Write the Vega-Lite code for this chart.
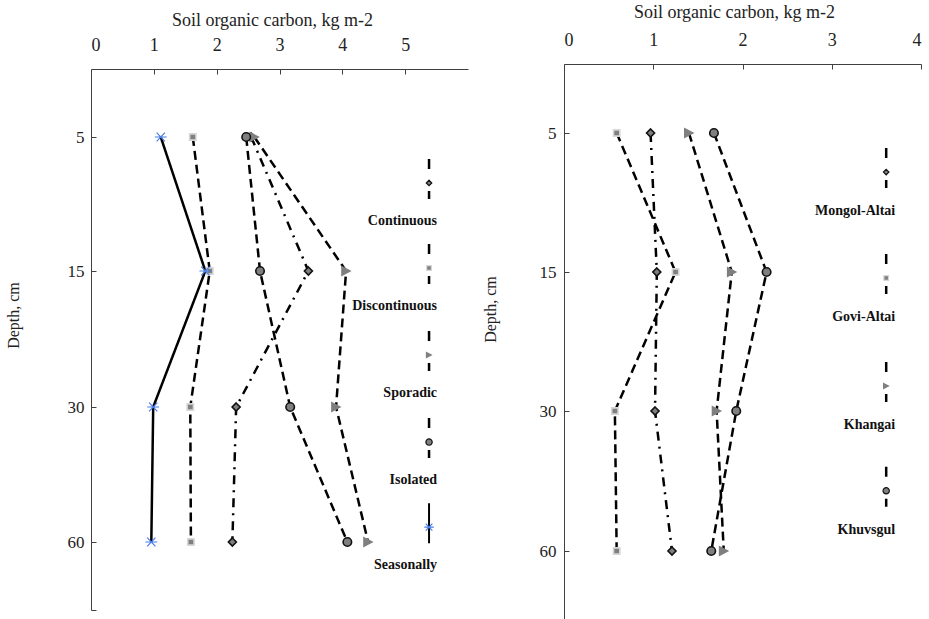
{
  "$schema": "https://vega.github.io/schema/vega-lite/v6.json",
  "background": "white",
  "padding": {"left": 5, "top": 3, "right": 0, "bottom": 0},
  "spacing": 14,
  "config": {
    "view": {"stroke": null},
    "font": "Liberation Serif",
    "axis": {
      "grid": false,
      "domainColor": "#404040",
      "tickColor": "#404040",
      "labelColor": "#222222",
      "titleColor": "#222222",
      "labelFont": "Liberation Serif",
      "titleFont": "Liberation Serif",
      "titleFontWeight": "normal",
      "labelFontSize": 18,
      "titleFontSize": 18
    }
  },
  "resolve": {"scale": {"x": "independent", "y": "independent", "shape": "independent", "fill": "independent", "stroke": "independent", "strokeDash": "independent"}},
  "hconcat": [
    {
      "width": 377,
      "height": 541,
      "data": {"values": [
        {"series": "Continuous", "depth": 5, "soc": 2.55},
        {"series": "Continuous", "depth": 15, "soc": 3.46},
        {"series": "Continuous", "depth": 30, "soc": 2.31},
        {"series": "Continuous", "depth": 60, "soc": 2.25},
        {"series": "Discontinuous", "depth": 5, "soc": 1.62},
        {"series": "Discontinuous", "depth": 15, "soc": 1.89},
        {"series": "Discontinuous", "depth": 30, "soc": 1.58},
        {"series": "Discontinuous", "depth": 60, "soc": 1.59},
        {"series": "Sporadic", "depth": 5, "soc": 2.6},
        {"series": "Sporadic", "depth": 15, "soc": 4.06},
        {"series": "Sporadic", "depth": 30, "soc": 3.9},
        {"series": "Sporadic", "depth": 60, "soc": 4.41},
        {"series": "Isolated", "depth": 5, "soc": 2.47},
        {"series": "Isolated", "depth": 15, "soc": 2.69},
        {"series": "Isolated", "depth": 30, "soc": 3.17},
        {"series": "Isolated", "depth": 60, "soc": 4.08},
        {"series": "Seasonally", "depth": 5, "soc": 1.11},
        {"series": "Seasonally", "depth": 15, "soc": 1.82},
        {"series": "Seasonally", "depth": 30, "soc": 0.99},
        {"series": "Seasonally", "depth": 60, "soc": 0.96}
      ]},
      "encoding": {
        "x": {"field": "soc", "type": "quantitative",
          "scale": {"domain": [0, 6], "nice": false, "zero": false},
          "axis": {"orient": "top", "title": "Soil organic carbon, kg m-2", "values": [0, 1, 2, 3, 4, 5], "tickSize": -5, "labelPadding": 20, "titlePadding": 7, "titleX": 181}},
        "y": {"field": "depth", "type": "quantitative",
          "scale": {"domain": [0, 5, 15, 30, 60, 70], "range": [0, 68, 202, 338, 473, 541], "nice": false, "zero": false},
          "axis": {"title": "Depth, cm", "titleFontSize": 16, "labelFontSize": 17, "values": [5, 15, 30, 60, 70], "labelExpr": "datum.value === 70 ? '' : datum.label", "tickSize": -5, "labelPadding": 12, "titlePadding": 46, "titleY": 246}}
      },
      "layer": [
        {
          "mark": {"type": "line", "color": "black", "strokeWidth": 2.5},
          "encoding": {
            "detail": {"field": "series"},
            "order": {"field": "depth", "type": "quantitative"},
            "strokeDash": {"field": "series", "type": "nominal", "legend": null,
              "scale": {"domain": ["Continuous", "Discontinuous", "Sporadic", "Isolated", "Seasonally"], "range": [[9, 6, 2, 6], [9, 5], [9, 5], [9, 5], [1, 0]]}},
            "strokeWidth": {"condition": {"test": "datum.series === 'Seasonally'", "value": 1.6}, "value": 2.5}
          }
        },
        {
          "mark": {"type": "point", "filled": true, "opacity": 1},
          "encoding": {
            "shape": {"field": "series", "type": "nominal", "legend": null,
              "scale": {"domain": ["Continuous", "Discontinuous", "Sporadic", "Isolated", "Seasonally"], "range": ["M0,-1L1,0L0,1L-1,0Z", "square", "M1,0L-0.9,-1L-0.9,1Z", "circle", "M-1,0L1,0M-0.7,-0.75L0.7,0.75M-0.7,0.75L0.7,-0.75"]}},
            "fill": {"field": "series", "type": "nominal", "legend": null,
              "scale": {"domain": ["Continuous", "Discontinuous", "Sporadic", "Isolated", "Seasonally"], "range": ["#7f7f7f", "#7f7f7f", "#7f7f7f", "#7f7f7f", "transparent"]}},
            "stroke": {"field": "series", "type": "nominal", "legend": null,
              "scale": {"domain": ["Continuous", "Discontinuous", "Sporadic", "Isolated", "Seasonally"], "range": ["#111111", "#d6d6d6", "transparent", "#111111", "#4a7ee8"]}},
            "size": {"condition": [
              {"test": "datum.series === 'Continuous'", "value": 64},
              {"test": "datum.series === 'Discontinuous'", "value": 40},
              {"test": "datum.series === 'Sporadic'", "value": 120},
              {"test": "datum.series === 'Isolated'", "value": 72}
            ], "value": 140},
            "strokeWidth": {"condition": {"test": "datum.series === 'Seasonally'", "value": 1.2}, "value": 1.6}
          }
        },
        {
          "data": {"values": [
            {"series": "Continuous", "depth": 8.43, "soc": 5.38},
            {"series": "Discontinuous", "depth": 14.78, "soc": 5.38},
            {"series": "Sporadic", "depth": 24.26, "soc": 5.38},
            {"series": "Isolated", "depth": 37.8, "soc": 5.38},
            {"series": "Seasonally", "depth": 56.7, "soc": 5.38}
          ]},
          "layer": [
            {
              "mark": {"type": "rule", "color": "black", "yOffset": -24, "y2Offset": 16},
              "encoding": {
                "y2": {"field": "depth"},
                "strokeDash": {"condition": {"test": "datum.series === 'Seasonally'", "value": [1, 0]}, "value": [10, 22]},
                "strokeWidth": {"condition": {"test": "datum.series === 'Seasonally'", "value": 2}, "value": 2.5}
              }
            },
            {
              "mark": {"type": "point", "filled": true, "opacity": 1, "strokeWidth": 1.2},
              "encoding": {
                "shape": {"field": "series", "type": "nominal", "legend": null},
                "fill": {"field": "series", "type": "nominal", "legend": null},
                "stroke": {"field": "series", "type": "nominal", "legend": null},
                "size": {"condition": [
                  {"test": "datum.series === 'Continuous'", "value": 30},
                  {"test": "datum.series === 'Discontinuous'", "value": 22},
                  {"test": "datum.series === 'Sporadic'", "value": 50},
                  {"test": "datum.series === 'Isolated'", "value": 40}
                ], "value": 90}
              }
            },
            {
              "mark": {"type": "text", "font": "Liberation Serif", "fontSize": 14, "fontWeight": "bold", "align": "right", "baseline": "middle", "dx": 8, "dy": 38, "color": "#111111"},
              "encoding": {"text": {"field": "series"}}
            }
          ]
        }
      ]
    },
    {
      "width": 357,
      "height": 556,
      "data": {"values": [
        {"series": "Mongol-Altai", "depth": 5, "soc": 0.97},
        {"series": "Mongol-Altai", "depth": 15, "soc": 1.04},
        {"series": "Mongol-Altai", "depth": 30, "soc": 1.02},
        {"series": "Mongol-Altai", "depth": 60, "soc": 1.21},
        {"series": "Govi-Altai", "depth": 5, "soc": 0.59},
        {"series": "Govi-Altai", "depth": 15, "soc": 1.25},
        {"series": "Govi-Altai", "depth": 30, "soc": 0.57},
        {"series": "Govi-Altai", "depth": 60, "soc": 0.59},
        {"series": "Khangai", "depth": 5, "soc": 1.4},
        {"series": "Khangai", "depth": 15, "soc": 1.88},
        {"series": "Khangai", "depth": 30, "soc": 1.71},
        {"series": "Khangai", "depth": 60, "soc": 1.79},
        {"series": "Khuvsgul", "depth": 5, "soc": 1.68},
        {"series": "Khuvsgul", "depth": 15, "soc": 2.27},
        {"series": "Khuvsgul", "depth": 30, "soc": 1.93},
        {"series": "Khuvsgul", "depth": 60, "soc": 1.65}
      ]},
      "encoding": {
        "x": {"field": "soc", "type": "quantitative",
          "scale": {"domain": [0, 4], "nice": false, "zero": false},
          "axis": {"orient": "top", "offset": 5, "title": "Soil organic carbon, kg m-2", "values": [0, 1, 2, 3, 4], "tickSize": -5, "labelPadding": 20, "titlePadding": 10, "titleX": 170}},
        "y": {"field": "depth", "type": "quantitative",
          "scale": {"domain": [0, 5, 15, 30, 60, 70], "range": [-5, 64, 203, 342, 482, 551], "nice": false, "zero": false},
          "axis": {"title": "Depth, cm", "titleFontSize": 16, "labelFontSize": 17, "values": [5, 15, 30, 60, 70], "labelExpr": "datum.value === 70 ? '' : datum.label", "tickSize": -5, "labelPadding": 13, "titlePadding": 41, "titleY": 240}}
      },
      "layer": [
        {
          "mark": {"type": "line", "color": "black", "strokeWidth": 2.5},
          "encoding": {
            "detail": {"field": "series"},
            "order": {"field": "depth", "type": "quantitative"},
            "strokeDash": {"field": "series", "type": "nominal", "legend": null,
              "scale": {"domain": ["Mongol-Altai", "Govi-Altai", "Khangai", "Khuvsgul"], "range": [[9, 6, 2, 6], [9, 5], [9, 5], [9, 5]]}}
          }
        },
        {
          "mark": {"type": "point", "filled": true, "opacity": 1, "strokeWidth": 1.6},
          "encoding": {
            "shape": {"field": "series", "type": "nominal", "legend": null,
              "scale": {"domain": ["Mongol-Altai", "Govi-Altai", "Khangai", "Khuvsgul"], "range": ["M0,-1L1,0L0,1L-1,0Z", "square", "M1,0L-0.9,-1L-0.9,1Z", "circle"]}},
            "fill": {"field": "series", "type": "nominal", "legend": null,
              "scale": {"domain": ["Mongol-Altai", "Govi-Altai", "Khangai", "Khuvsgul"], "range": ["#7f7f7f", "#7f7f7f", "#7f7f7f", "#7f7f7f"]}},
            "stroke": {"field": "series", "type": "nominal", "legend": null,
              "scale": {"domain": ["Mongol-Altai", "Govi-Altai", "Khangai", "Khuvsgul"], "range": ["#111111", "#d6d6d6", "transparent", "#111111"]}},
            "size": {"condition": [
              {"test": "datum.series === 'Mongol-Altai'", "value": 64},
              {"test": "datum.series === 'Govi-Altai'", "value": 40},
              {"test": "datum.series === 'Khangai'", "value": 120}
            ], "value": 72}
          }
        },
        {
          "data": {"values": [
            {"series": "Mongol-Altai", "depth": 7.81, "soc": 3.61},
            {"series": "Govi-Altai", "depth": 15.65, "soc": 3.61},
            {"series": "Khangai", "depth": 27.3, "soc": 3.61},
            {"series": "Khuvsgul", "depth": 47.1, "soc": 3.61}
          ]},
          "layer": [
            {
              "mark": {"type": "rule", "color": "black", "strokeWidth": 2.5, "strokeDash": [10, 22], "yOffset": -24, "y2Offset": 16},
              "encoding": {"y2": {"field": "depth"}}
            },
            {
              "mark": {"type": "point", "filled": true, "opacity": 1, "strokeWidth": 1.2},
              "encoding": {
                "shape": {"field": "series", "type": "nominal", "legend": null},
                "fill": {"field": "series", "type": "nominal", "legend": null},
                "stroke": {"field": "series", "type": "nominal", "legend": null},
                "size": {"condition": [
                  {"test": "datum.series === 'Mongol-Altai'", "value": 30},
                  {"test": "datum.series === 'Govi-Altai'", "value": 22},
                  {"test": "datum.series === 'Khangai'", "value": 50}
                ], "value": 40}
              }
            },
            {
              "mark": {"type": "text", "font": "Liberation Serif", "fontSize": 14, "fontWeight": "bold", "align": "right", "baseline": "middle", "dx": 9, "dy": 39, "color": "#111111"},
              "encoding": {"text": {"field": "series"}}
            }
          ]
        }
      ]
    }
  ]
}
